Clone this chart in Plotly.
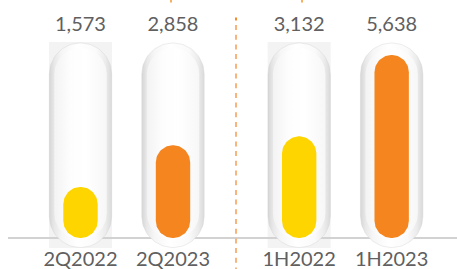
import numpy as np
import plotly.graph_objects as go

# ---------------- data ----------------
categories = ["2Q2022", "2Q2023", "1H2022", "1H2023"]
values = [1573, 2858, 3132, 5638]
value_labels = [f"{v:,}" for v in values]

# ---------------- style / layout ----------------
W, H = 457, 269
YELLOW = "#FFD500"
ORANGE = "#F5851F"
bar_colors = [YELLOW, ORANGE, YELLOW, ORANGE]
TEXT = "#606060"
FONT = "Lato"

X0PX = 80.5        # pixel centre of first category
XUNIT = 92.5       # pixels per x unit
GROUP_GAP = 0.364  # extra gap between the two groups (x units)
BASE_PX = 238.0    # pixel row of the baseline (value 0)
YS = 183.0 / 5638  # pixels per value unit

positions = [0, 1, 2 + GROUP_GAP, 3 + GROUP_GAP]


def px_to_x(px):
    return (px - X0PX) / XUNIT


def py_to_y(py):
    return (BASE_PX - py) / YS


def x_to_px(x):
    return X0PX + x * XUNIT


def capsule(pos, half_w, top_py, bot_py, n=40):
    """Outline of a capsule (both ends semicircles) in data coordinates."""
    cx = x_to_px(pos)
    r = half_w
    xs, ys = [], []
    for t in np.linspace(0, np.pi, n):
        xs.append(cx + r * np.cos(t))
        ys.append(top_py + r - r * np.sin(t))
    for t in np.linspace(np.pi, 2 * np.pi, n):
        xs.append(cx + r * np.cos(t))
        ys.append(bot_py - r - r * np.sin(t))
    xs.append(xs[0])
    ys.append(ys[0])
    return [px_to_x(v) for v in xs], [py_to_y(v) for v in ys]


fig = go.Figure()

OUT_HALF = 31.2
OUT_TOP = 43.0
OUT_BOT = 247.5
IN_HALF = 17.2

# outer tubes
for i, pos in enumerate(positions):
    xs, ys = capsule(pos, OUT_HALF, OUT_TOP, OUT_BOT)
    fig.add_trace(go.Scatter(
        x=xs, y=ys, mode="lines", fill="toself",
        line=dict(color="rgba(210,210,210,0.5)", width=0.8),
        fillgradient=dict(type="horizontal", colorscale=[
            [0, "#d6d6d6"], [0.08, "#e8e8e8"], [0.2, "#f6f6f6"],
            [0.45, "#ffffff"], [0.75, "#fafafa"], [0.9, "#ececec"], [1, "#dadada"]]),
        hoverinfo="skip", showlegend=False))
    xs, ys = capsule(pos, OUT_HALF - 5, OUT_TOP + 5, OUT_BOT - 8)
    fig.add_trace(go.Scatter(
        x=xs, y=ys, mode="lines", fill="toself",
        line=dict(color="rgba(0,0,0,0)", width=0),
        fillgradient=dict(type="horizontal", colorscale=[
            [0, "#f3f3f3"], [0.3, "#fdfdfd"], [0.6, "#ffffff"], [1, "#f7f7f7"]]),
        hoverinfo="skip", showlegend=False))

# inner value bars
for i, (pos, v) in enumerate(zip(positions, values)):
    top_py = BASE_PX - v * YS
    xs, ys = capsule(pos, IN_HALF, top_py, BASE_PX)
    fig.add_trace(go.Scatter(
        x=xs, y=ys, mode="lines", fill="toself",
        line=dict(color=bar_colors[i], width=0),
        fillcolor=bar_colors[i],
        hoverinfo="skip", showlegend=False))

# value labels
fig.add_trace(go.Scatter(
    x=positions, y=[py_to_y(25.5)] * len(positions), mode="text",
    text=value_labels, textfont=dict(family=FONT, size=20, color=TEXT),
    textposition="middle center", hoverinfo="skip", showlegend=False,
    cliponaxis=False))

# category labels
fig.add_trace(go.Scatter(
    x=positions, y=[py_to_y(260.5)] * len(positions), mode="text",
    text=categories, textfont=dict(family=FONT, size=20, color=TEXT),
    textposition="middle center", hoverinfo="skip", showlegend=False,
    cliponaxis=False))

shapes = []
for i in (0, 2):
    shapes.append(dict(type="rect", layer="below", xref="x", yref="y",
                       x0=px_to_x(x_to_px(positions[i]) - 31.5),
                       x1=px_to_x(x_to_px(positions[i]) + 31.5),
                       y0=py_to_y(248), y1=py_to_y(42),
                       fillcolor="#f3f3f3", line=dict(width=0)))
shapes.append(dict(type="line", layer="below", xref="x", yref="y",
                   x0=px_to_x(8), x1=px_to_x(457), y0=0, y1=0,
                   line=dict(color="#d2d2d2", width=2)))
div_x = px_to_x(236)
shapes.append(dict(type="line", layer="above", xref="x", yref="y",
                   x0=div_x, x1=div_x, y0=py_to_y(25), y1=py_to_y(269),
                   line=dict(color="#f8b47a", width=2, dash="5px,4.7px")))
shapes.append(dict(type="line", layer="above", xref="x", yref="y",
                   x0=div_x, x1=div_x, y0=py_to_y(17.5), y1=py_to_y(20.5),
                   line=dict(color="#f58a2a", width=2)))
for tpx in (171, 302):
    shapes.append(dict(type="line", layer="above", xref="x", yref="y",
                       x0=px_to_x(tpx), x1=px_to_x(tpx),
                       y0=py_to_y(0), y1=py_to_y(2.5),
                       line=dict(color="#f8b060", width=2)))

fig.update_layout(
    width=W, height=H,
    margin=dict(l=0, r=0, t=0, b=0),
    paper_bgcolor="white", plot_bgcolor="white",
    shapes=shapes,
    xaxis=dict(range=[px_to_x(0), px_to_x(W)], visible=False, fixedrange=True),
    yaxis=dict(range=[py_to_y(H), py_to_y(0)], visible=False, fixedrange=True),
    showlegend=False,
)

fig.write_html(
    "out.html",
    config={"displayModeBar": False},
    post_script="document.body.style.margin='0px';document.body.style.overflow='hidden';",
)
